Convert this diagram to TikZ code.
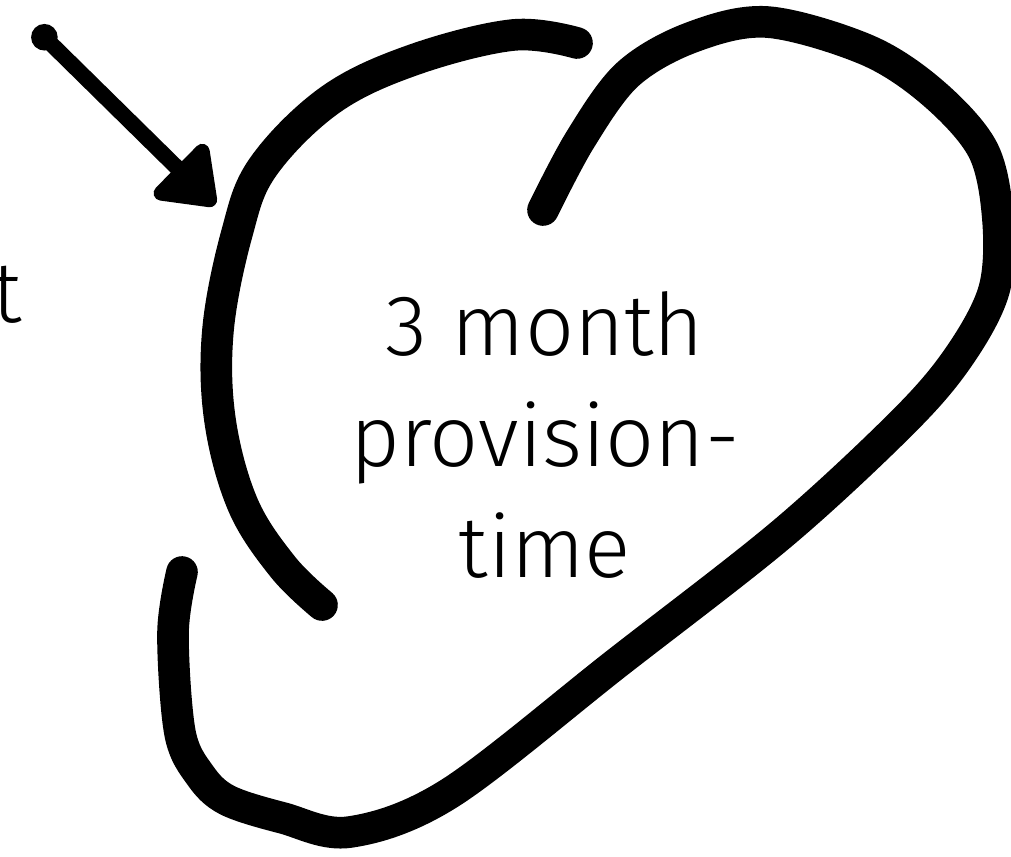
\documentclass[tikz,border=0pt]{standalone}
\usepackage{fontspec}
\setmainfont{Fira Sans}[UprightFont={* Light}]
\usepackage{tikz}
\usetikzlibrary{arrows.meta,positioning}

\begin{document}
\begin{tikzpicture}[
  x=0.02cm, y=-0.02cm,
  stroke/.style={line width=18pt, line cap=round, line join=round, black},
  arr/.style={{Circle[length=15pt]}-{Triangle[length=34pt, width=48pt, round]}, line width=9pt, black},
  lbl/.style={align=center, inner sep=0pt, font=\fontsize{49}{63}\selectfont}
]
\useasboundingbox (0,0) rectangle (1011,856);

% Text
\node[lbl] (time) at (545,435) {3 month\\provision-\\time};
\node[lbl, anchor=base east] (cut) at (22,322) {t};

% Heart, left arc
\draw[stroke] plot[smooth, tension=0.6] coordinates {
  (577,43) (513,35) (413,60) (330,100) (263,167) (237,233)
  (218,330) (220,420) (243,505) (283,567) (322,605)};

% Heart, outer loop
\draw[stroke] plot[smooth, tension=0.55] coordinates {
  (543,210) (580,140) (627,75) (690,38) (767,22) (867,50) (933,93)
  (983,150) (998,220) (994,290) (960,355) (905,420)
  (783,533) (617,663) (450,793)
  (350,832) (283,818) (227,800) (200,775) (180,733) (173,633) (182,572)};

% Arrow
\coordinate (tail) at (35,28);
\coordinate (head) at (215,205);
\draw[arr] (tail) -- (head);
\end{tikzpicture}
\end{document}
